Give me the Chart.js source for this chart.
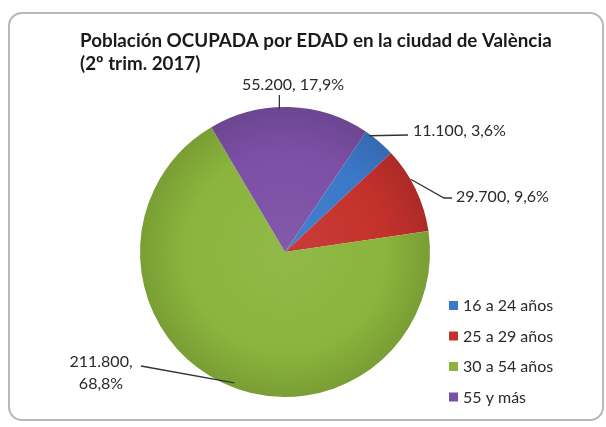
<!DOCTYPE html>
<html>
<head>
<meta charset="utf-8">
<script src="https://cdn.jsdelivr.net/npm/chart.js@4"></script>
<style>
  body { margin: 0; background: #fff; }
  #marco { position: absolute; left: 8px; top: 12px; width: 592px; height: 405px;
           border: 2px solid #b8b8b8; border-radius: 14px; }
  #grafico { position: absolute; left: 0; top: 0; }
</style>
</head>
<body>
<div id="marco"></div>
<canvas id="grafico" width="606" height="427"></canvas>
<script>
// Datos
const categorias = ['16 a 24 años', '25 a 29 años', '30 a 54 años', '55 y más'];
const ocupados = [11100, 29700, 211800, 55200];
const porcentajes = [3.6, 9.6, 68.8, 17.9];
const colores = ['#3b78c9', '#c4312c', '#8ab43c', '#7b4fa5'];
const titulo = ['Población OCUPADA por EDAD en la ciudad de València', '(2º trim. 2017)'];

const fuente = 'Lato, "Open Sans", sans-serif';

function formatoMiles(n) {
  return String(n).replace(/\B(?=(\d{3})+(?!\d))/g, '.');
}
function formatoPct(p) {
  return p.toFixed(1).replace('.', ',') + '%';
}
// aclara (f>0) u oscurece (f<0) un color hex
function tono(hex, f) {
  const n = parseInt(hex.slice(1), 16);
  const c = [n >> 16, (n >> 8) & 255, n & 255].map(v =>
    Math.round(f > 0 ? v + (255 - v) * f : v * (1 + f)));
  return `rgb(${c[0]},${c[1]},${c[2]})`;
}

// Posición de las etiquetas (texto y codo de la línea guía)
const etiquetas = [
  { desp: [-10, -6], codo: null, fin: [408, 135], tx: 413, ty: 131, align: 'left' },
  { desp: [-5, -10], codo: [444, 198], fin: [452, 198], tx: 456, ty: 197, align: 'left' },
  { desp: [12, 0], codo: null, fin: [141, 366], tx: 101, ty: 362, align: 'center', partir: true },
  { desp: [0, 0], codo: null, fin: null, tx: 293, ty: 85, align: 'center', vertical: 95 }
];

const dibujoExtra = {
  id: 'dibujoExtra',
  afterDraw(chart) {
    const ctx = chart.ctx;
    ctx.save();

    // Título
    ctx.fillStyle = '#1a1a1a';
    ctx.font = 'bold 18.8px ' + fuente;
    ctx.textAlign = 'left';
    ctx.textBaseline = 'middle';
    ctx.fillText(titulo[0], 80, 41);
    ctx.fillText(titulo[1], 80, 64);

    // Etiquetas con líneas guía
    const meta = chart.getDatasetMeta(0);
    ctx.font = '16px ' + fuente;
    ctx.fillStyle = '#2a2a2a';
    ctx.strokeStyle = '#333';
    ctx.lineWidth = 1.3;
    meta.data.forEach((arc, i) => {
      const cfg = etiquetas[i];
      const medio = (arc.startAngle + arc.endAngle) / 2;
      const ax = arc.x + Math.cos(medio) * arc.outerRadius;
      const ay = arc.y + Math.sin(medio) * arc.outerRadius;
      ctx.beginPath();
      if (cfg.vertical) {
        const lx = ax - 10;
        ctx.moveTo(lx, arc.y - arc.outerRadius + 2);
        ctx.lineTo(lx, cfg.vertical);
      } else {
        ctx.moveTo(ax + cfg.desp[0], ay + cfg.desp[1]);
        if (cfg.codo) ctx.lineTo(cfg.codo[0], cfg.codo[1]);
        ctx.lineTo(cfg.fin[0], cfg.fin[1]);
      }
      ctx.stroke();

      const valor = formatoMiles(ocupados[i]) + ',';
      const pct = formatoPct(porcentajes[i]);
      ctx.textAlign = cfg.align;
      ctx.textBaseline = 'middle';
      if (cfg.partir) {
        ctx.fillText(valor, cfg.tx, cfg.ty);
        ctx.fillText(pct, cfg.tx, cfg.ty + 22);
      } else {
        ctx.fillText(valor + ' ' + pct, cfg.tx, cfg.ty);
      }
    });

    // Leyenda
    ctx.font = '16px ' + fuente;
    ctx.textAlign = 'left';
    ctx.textBaseline = 'middle';
    chart.data.labels.forEach((lab, i) => {
      const y = 306 + i * 30.5;
      ctx.fillStyle = colores[i];
      ctx.fillRect(449, y - 5, 9, 9);
      ctx.fillStyle = '#2a2a2a';
      ctx.fillText(lab, 463, y);
    });
    ctx.restore();
  }
};

const ctx = document.getElementById('grafico').getContext('2d');
new Chart(ctx, {
  type: 'pie',
  data: {
    labels: categorias,
    datasets: [{
      data: ocupados,
      backgroundColor: (c) => {
        const base = colores[c.dataIndex];
        const area = c.chart.chartArea;
        if (!area) return base;
        const cx = (area.left + area.right) / 2;
        const cy = (area.top + area.bottom) / 2;
        const r = Math.min(area.right - area.left, area.bottom - area.top) / 2;
        const g = c.chart.ctx.createRadialGradient(cx, cy, 0, cx, cy, r);
        g.addColorStop(0, tono(base, 0.06));
        g.addColorStop(0.7, base);
        g.addColorStop(1, tono(base, -0.12));
        return g;
      },
      borderWidth: 0
    }]
  },
  options: {
    responsive: false,
    animation: false,
    rotation: 34,
    layout: { padding: { left: 140, right: 176, top: 107, bottom: 30 } },
    plugins: {
      legend: { display: false },
      title: { display: false },
      tooltip: { enabled: false }
    }
  },
  plugins: [dibujoExtra]
});
</script>
</body>
</html>
